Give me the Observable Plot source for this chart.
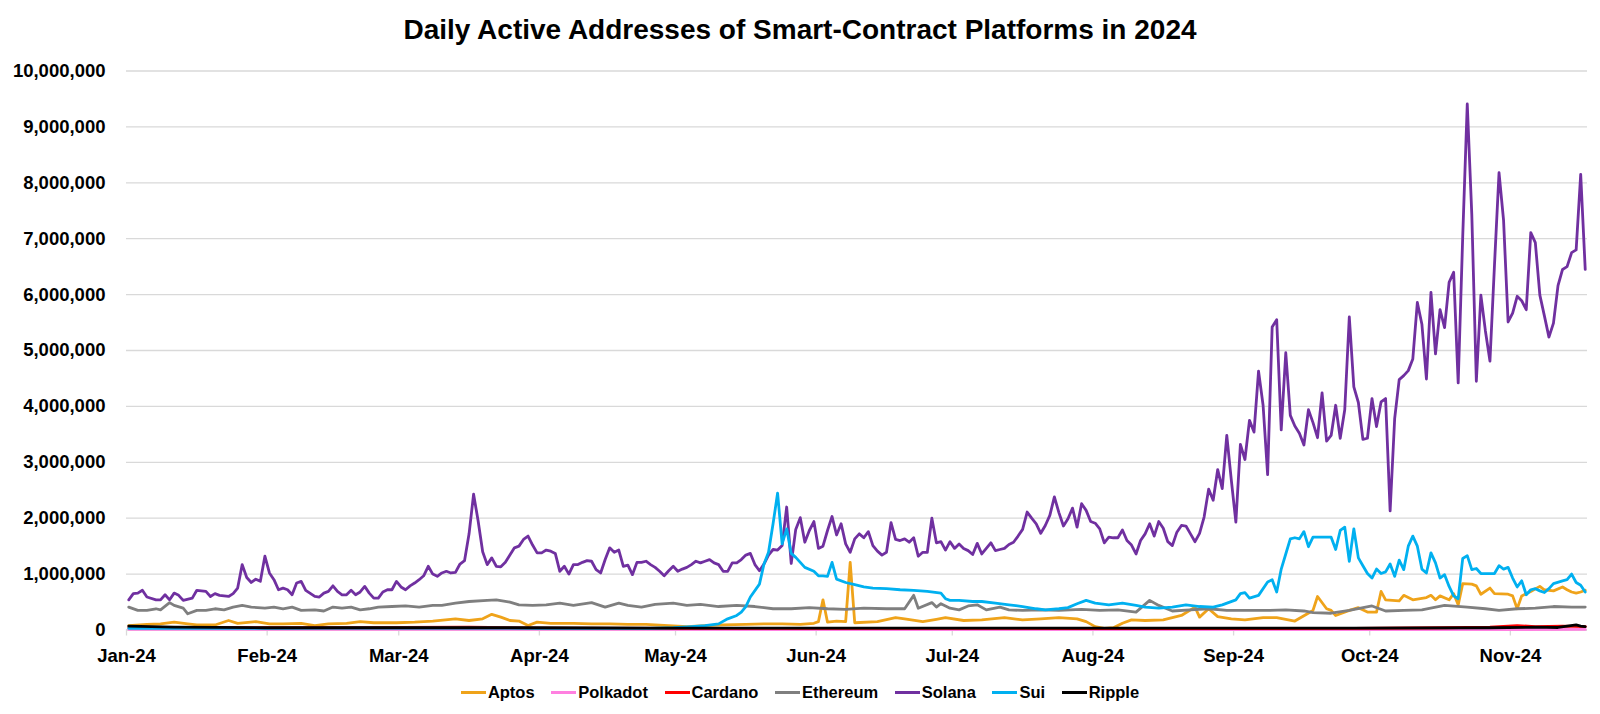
<!DOCTYPE html>
<html>
<head>
<meta charset="utf-8">
<script src="https://cdn.jsdelivr.net/npm/d3@7"></script>
<script src="https://cdn.jsdelivr.net/npm/@observablehq/plot@0.6"></script>
<style>
  html, body { margin: 0; padding: 0; background: #fff; }
  #wrap { position: relative; width: 1600px; height: 714px; overflow: hidden;
          font-family: "Liberation Sans", Arial, sans-serif; color: #000; }
  #title { position: absolute; left: 0; top: 16px; width: 1600px; text-align: center;
           font-weight: bold; font-size: 28px; line-height: 1; }
  #chart { position: absolute; left: 0; top: 55px; }
  #legend { position: absolute; left: 0; top: 680px; width: 1600px; height: 24px;
            display: flex; justify-content: center; align-items: center;
            font-weight: bold; font-size: 16.5px; }
  .item { display: flex; align-items: center; margin: 0 8.3px; }
  .sw { display: inline-block; width: 25px; height: 3px; margin-right: 2px; }
</style>
</head>
<body>
<div id="wrap">
  <div id="title">Daily Active Addresses of Smart-Contract Platforms in 2024</div>
  <div id="chart"></div>
  <div id="legend"></div>
</div>
<script>
// ---- data: [day index from 2024-01-01, daily active addresses in thousands] ----
const seriesNames = ["Aptos", "Polkadot", "Cardano", "Ethereum", "Solana", "Sui", "Ripple"];
const seriesColors = ["#EFA31A", "#FF80E0", "#FF0000", "#7F7F7F", "#7030A0", "#00B0F0", "#000000"];
const yTicks = [0, 1e6, 2e6, 3e6, 4e6, 5e6, 6e6, 7e6, 8e6, 9e6, 10e6];
const monthTicks = ["2024-01-01","2024-02-01","2024-03-01","2024-04-01","2024-05-01","2024-06-01",
                    "2024-07-01","2024-08-01","2024-09-01","2024-10-01","2024-11-01"];

const solana = [
 [0,540],[1,650],[2,660],[3,710],[4,590],[6,540],[7,540],[8,630],[9,540],[10,660],[11,620],[12,530],
 [14,570],[15,710],[17,690],[18,600],[19,650],[20,620],[22,600],[23,650],[24,750],[25,1170],[26,940],
 [27,850],[28,910],[29,870],[30,1320],[31,1020],[32,900],[33,720],[34,750],[35,720],[36,630],[37,840],
 [38,870],[39,710],[41,600],[42,590],[43,660],[44,690],[45,790],[46,690],[47,630],[48,630],[49,710],
 [50,630],[51,680],[52,780],[53,660],[54,570],[55,570],[56,680],[57,720],[58,720],[59,870],[60,770],
 [61,720],[62,790],[63,840],[64,900],[65,970],[66,1140],[67,1000],[68,960],[69,1020],[70,1050],[71,1020],
 [72,1030],[73,1180],[74,1240],[75,1720],[76,2430],[77,1950],[78,1400],[79,1170],[80,1290],[81,1140],
 [82,1130],[83,1210],[84,1340],[85,1470],[86,1500],[87,1620],[88,1680],[89,1520],[90,1380],[91,1380],
 [92,1430],[93,1410],[94,1370],[95,1050],[96,1140],[97,1000],[98,1170],[99,1170],[100,1210],[101,1240],
 [102,1230],[103,1080],[104,1020],[105,1260],[106,1470],[107,1390],[108,1430],[109,1140],[110,1160],
 [111,990],[112,1210],[113,1210],[114,1230],[115,1170],[116,1120],[117,1050],[118,970],[119,1060],
 [120,1140],[121,1050],[122,1090],[123,1120],[124,1170],[125,1230],[126,1200],[127,1230],[128,1260],
 [129,1200],[130,1170],[131,1050],[132,1050],[133,1200],[134,1200],[135,1260],[136,1340],[137,1370],
 [138,1170],[139,1060],[140,1180],[141,1340],[142,1440],[143,1430],[144,1510],[145,2200],[146,1190],
 [147,1800],[148,2010],[149,1570],[150,1780],[151,1940],[152,1460],[153,1500],[154,1780],[155,2030],
 [156,1700],[157,1900],[158,1540],[159,1390],[160,1630],[161,1720],[162,1650],[163,1760],[164,1510],
 [165,1410],[166,1340],[167,1390],[168,1920],[169,1620],[170,1600],[171,1630],[172,1570],[173,1650],
 [174,1320],[175,1390],[176,1390],[177,2000],[178,1560],[179,1580],[180,1430],[181,1580],[182,1460],
 [183,1540],[184,1460],[185,1420],[186,1350],[187,1550],[188,1360],[189,1460],[190,1560],[191,1420],
 [192,1440],[193,1460],[194,1530],[195,1570],[196,1680],[197,1800],[198,2110],[199,2000],[200,1900],
 [201,1730],[202,1870],[203,2050],[204,2380],[205,2100],[206,1860],[207,1990],[208,2180],[209,1840],
 [210,2260],[211,2140],[212,1940],[213,1910],[214,1810],[215,1560],[216,1660],[217,1650],[218,1650],
 [219,1790],[220,1600],[221,1520],[222,1360],[223,1600],[224,1720],[225,1900],[226,1680],[227,1940],
 [228,1820],[229,1580],[230,1510],[231,1750],[232,1870],[233,1860],[234,1720],[235,1580],[236,1730],
 [237,2020],[238,2520],[239,2320],[240,2870],[241,2530],[242,3480],[243,2680],[244,1930],[245,3320],
 [246,3050],[247,3750],[248,3540],[249,4630],[250,4020],[251,2780],[252,5420],[253,5550],[254,3580],
 [255,4960],[256,3840],[257,3650],[258,3520],[259,3310],[260,3940],[261,3710],[262,3440],[263,4240],
 [264,3380],[265,3480],[266,4020],[267,3430],[268,3940],[269,5600],[270,4350],[271,4070],[272,3410],
 [273,3430],[274,4140],[275,3640],[276,4080],[277,4140],[278,2130],[279,3780],[280,4480],[281,4550],
 [282,4640],[283,4850],[284,5860],[285,5470],[286,4490],[287,6040],[288,4940],[289,5730],[290,5410],
 [291,6220],[292,6400],[293,4420],[294,7040],[295,9410],[296,7430],[297,4450],[298,5990],[299,5350],
 [300,4810],[301,6530],[302,8180],[303,7330],[304,5510],[305,5670],[306,5970],[307,5890],[308,5730],
 [309,7110],[310,6930],[311,5990],[312,5620],[313,5240],[314,5490],[315,6160],[316,6450],[317,6500],
 [318,6750],[319,6800],[320,8150],[321,6450]
];

const sui = [
 [0,30],[15,30],[30,30],[45,35],[60,35],[75,35],[90,30],[105,30],[115,30],[120,40],[124,60],[127,80],
 [130,110],[132,200],[134,260],[135,320],[136,420],[137,590],[139,820],[140,1180],[141,1390],[142,1900],
 [143,2450],[144,1540],[145,1810],[146,1370],[147,1300],[148,1210],[149,1120],[151,1050],[152,970],
 [153,970],[154,960],[155,1210],[156,910],[158,850],[160,810],[162,770],[164,750],[167,740],[170,720],
 [173,710],[176,690],[179,660],[180,560],[181,530],[183,530],[186,510],[188,510],[191,480],[194,450],
 [197,420],[200,380],[202,360],[205,380],[207,400],[209,470],[211,530],[213,480],[216,450],[219,480],
 [222,440],[224,410],[227,390],[230,410],[233,450],[236,420],[239,410],[241,450],[244,540],[245,650],
 [246,670],[247,570],[249,620],[251,860],[252,900],[253,680],[254,1090],[255,1360],[256,1630],[257,1650],
 [258,1630],[259,1760],[260,1490],[261,1660],[262,1660],[263,1660],[265,1660],[266,1440],[267,1780],
 [268,1840],[269,1230],[270,1810],[271,1290],[272,1150],[273,1010],[274,930],[275,1090],[276,1010],
 [277,1040],[278,1180],[279,960],[280,1250],[281,1080],[282,1500],[283,1680],[284,1500],[285,1090],
 [286,1020],[287,1380],[288,1200],[289,930],[290,990],[291,780],[292,610],[293,560],[294,1280],
 [295,1330],[296,1080],[297,1100],[298,1010],[299,1010],[301,1010],[302,1150],[303,1090],[304,1120],
 [305,930],[306,770],[307,880],[308,630],[309,720],[310,740],[311,700],[312,670],[313,740],[314,830],
 [316,880],[317,900],[318,1000],[319,850],[320,800],[321,680]
];

const ethereum = [
 [0,410],[2,350],[4,350],[6,380],[7,360],[9,490],[10,440],[12,390],[13,290],[15,350],[17,350],[19,380],
 [21,360],[23,410],[25,440],[27,410],[30,390],[32,410],[34,380],[36,410],[38,350],[41,360],[43,340],
 [45,410],[47,390],[49,410],[51,360],[53,380],[55,410],[58,420],[61,430],[64,410],[67,440],[69,440],
 [72,480],[75,510],[79,530],[81,540],[84,500],[86,450],[89,440],[92,450],[95,480],[98,440],[102,490],
 [105,410],[108,480],[110,440],[113,410],[116,460],[120,480],[123,440],[126,460],[130,420],[134,440],
 [138,420],[142,380],[146,380],[150,400],[154,380],[158,370],[162,390],[167,380],[171,380],[173,620],
 [174,390],[177,490],[178,410],[179,470],[181,390],[183,360],[185,430],[187,450],[189,360],[192,410],
 [194,360],[197,350],[201,360],[205,350],[210,370],[214,350],[218,360],[222,320],[225,530],[227,440],
 [230,340],[234,360],[238,380],[242,350],[246,350],[251,350],[255,360],[259,340],[261,310],[265,300],
 [269,350],[274,430],[277,340],[281,350],[285,360],[290,440],[295,410],[299,380],[302,350],[306,380],
 [310,390],[314,420],[318,410],[321,410]
];

const aptos = [
 [0,80],[4,100],[7,110],[10,140],[13,110],[15,90],[19,90],[22,170],[24,120],[28,150],[31,110],[34,110],
 [38,120],[41,80],[44,110],[48,120],[51,150],[54,130],[59,130],[63,140],[67,160],[72,200],[75,170],
 [78,200],[80,280],[82,230],[84,170],[86,160],[88,80],[90,140],[93,120],[98,120],[102,110],[106,110],
 [110,100],[114,100],[119,80],[123,60],[127,80],[131,90],[136,100],[140,110],[144,110],[148,100],
 [151,120],[152,150],[153,540],[154,140],[156,160],[158,150],[159,1210],[160,130],[165,150],[169,220],
 [171,200],[175,150],[178,190],[180,220],[184,170],[188,180],[193,220],[197,180],[201,200],[205,220],
 [209,200],[211,150],[213,60],[215,30],[217,40],[219,120],[221,180],[224,170],[228,180],[232,260],[235,410],
 [236,230],[238,380],[240,240],[243,200],[246,180],[250,220],[253,220],[257,160],[261,350],[262,600],
 [264,380],[265,350],[266,260],[269,350],[271,400],[273,320],[275,320],[276,690],[277,540],[280,520],
 [281,620],[283,540],[286,580],[287,620],[288,540],[289,610],[291,540],[292,650],[293,450],[294,830],
 [296,820],[297,790],[298,640],[300,750],[301,650],[304,640],[305,610],[306,380],[307,610],[309,690],
 [311,780],[312,720],[314,700],[316,770],[317,720],[318,680],[319,660],[320,680],[321,710]
];

const ripple = [
 [0,70],[10,50],[30,40],[60,40],[90,40],[120,35],[150,35],[180,35],[210,35],[240,35],[270,35],
 [300,40],[310,50],[315,45],[319,90],[320,70],[321,60]
];
const cardano = [
 [0,45],[30,40],[60,45],[75,50],[90,35],[120,30],[150,30],[180,30],[210,25],[240,25],[270,30],
 [290,40],[300,50],[306,80],[310,60],[316,70],[321,60]
];
const polkadot = [[0,10],[100,10],[200,8],[300,8],[321,10]];

// ---- build chart ----
const start = Date.UTC(2024, 0, 1);
const DAY = 864e5;
const pointDate = d => new Date(start + (d + 0.5) * DAY); // Excel: point in the middle of its day slot
const seriesData = [aptos, polkadot, cardano, ethereum, solana, sui, ripple];
const rows = seriesData.map((arr, i) =>
  arr.map(([d, v]) => ({series: seriesNames[i], date: pointDate(d), value: v * 1000})));

const chart = Plot.plot({
  width: 1600,
  height: 620,
  marginLeft: 126,
  marginRight: 13,
  marginTop: 15.5,
  marginBottom: 45.5,
  style: {fontFamily: "'Liberation Sans', Arial, sans-serif", fontWeight: "bold", color: "#000", background: "#fff", overflow: "visible"},
  x: {type: "utc", domain: [new Date(start), new Date(start + 322 * DAY)]},
  y: {domain: [0, 10e6]},
  marks: [
    Plot.gridY(yTicks, {stroke: "#D9D9D9", strokeOpacity: 1, strokeWidth: 1.3}),
    Plot.axisY(yTicks, {tickSize: 0, tickPadding: 21, tickFormat: d3.format(","), label: null, fontSize: 18.5, fontWeight: "bold"}),
    Plot.axisX(monthTicks.map(s => new Date(s + "T00:00:00Z")), {
      tickSize: 6, tickPadding: 12.5, tickFormat: d3.utcFormat("%b-%y"), stroke: "#D9D9D9", strokeWidth: 1.3,
      label: null, fontSize: 18.5, fontWeight: "bold"}),
    Plot.ruleY([0], {stroke: "#D9D9D9", strokeWidth: 1.3}),
    ...rows.map((r, i) => Plot.line(r, {x: "date", y: "value", stroke: seriesColors[i], strokeWidth: 2.8,
                                         strokeLinejoin: "round", strokeLinecap: "round"}))
  ]
});
document.getElementById("chart").appendChild(chart);

// legend
const legend = document.getElementById("legend");
seriesNames.forEach((name, i) => {
  const item = document.createElement("div");
  item.className = "item";
  const sw = document.createElement("span");
  sw.className = "sw";
  sw.style.background = seriesColors[i];
  item.appendChild(sw);
  item.appendChild(document.createTextNode(name));
  legend.appendChild(item);
});
</script>
</body>
</html>
